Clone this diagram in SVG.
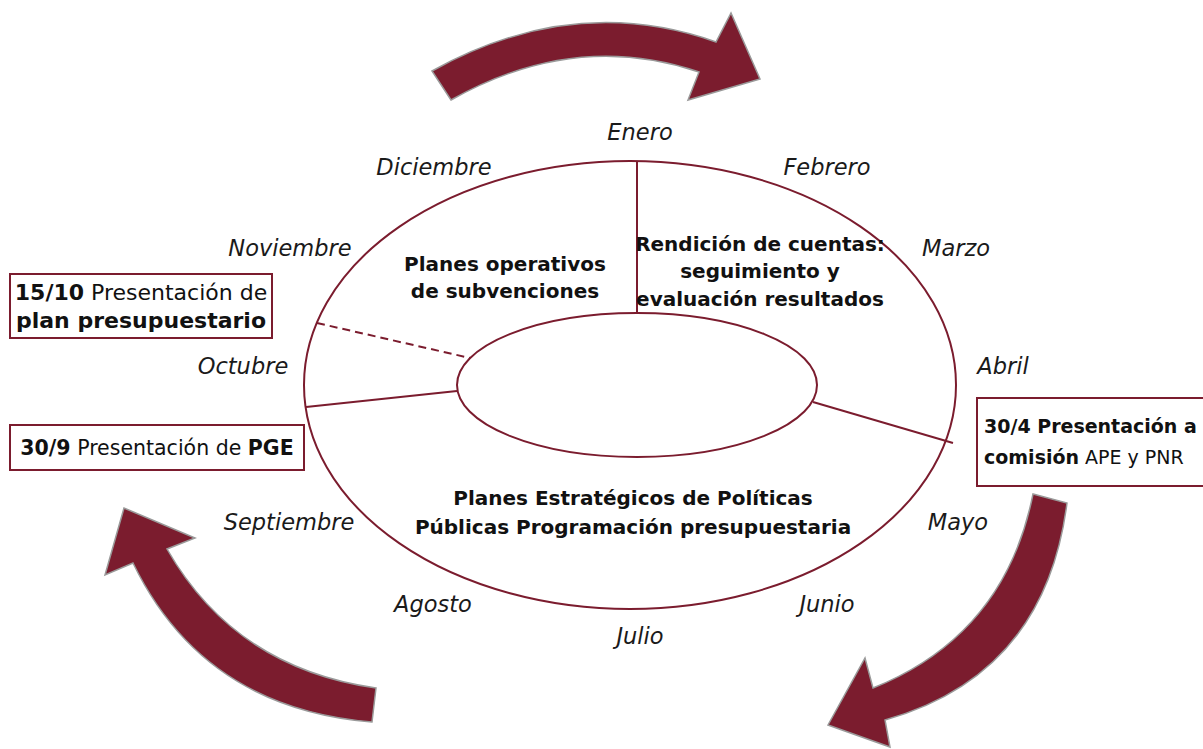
<svg xmlns="http://www.w3.org/2000/svg" width="1203" height="749" viewBox="0 0 1203 749">
<style>
.arrow{fill:#7B1C2E;stroke:#9a9a9a;stroke-width:1.5}
.ring{fill:none;stroke:#7B1C2E;stroke-width:2}
.box{fill:#fff;stroke:#7B1C2E;stroke-width:2}
.month{font-family:"DejaVu Sans",sans-serif;font-style:italic;font-size:22.5px;fill:#1a1a1a;text-anchor:middle}
.sec{font-family:"DejaVu Sans",sans-serif;font-weight:bold;font-size:20px;fill:#111;text-anchor:middle}
.note{font-family:"DejaVu Sans",sans-serif;font-size:22px;fill:#111}
.b{font-weight:bold}
</style>
<rect width="1203" height="749" fill="#fff"/>
<g id="arrows">
<path class="arrow" d="M432,71 Q574,-8 716,42 L731,13 L760,79 L688,100 L699,72 Q575,30 451,100 Z"/>
<path class="arrow" d="M376,688 Q235,668 167,549 L195,538 L124,508 L105,575 L133,563 Q203,708 372,722 Z"/>
<path class="arrow" d="M1033,494 Q1005,635 873,688 L865,658 L828,725 L890,747 L885,720 Q1045,675 1067,503 Z"/>
</g>
<g id="wheel">
<ellipse class="ring" cx="630" cy="385" rx="326" ry="224"/>
<ellipse class="ring" cx="637" cy="385" rx="180" ry="72"/>
</g>
<g id="connectors">
<line class="ring" x1="637" y1="162" x2="637" y2="313"/>
<line class="ring" x1="306" y1="407" x2="457" y2="391"/>
<line class="ring" x1="813" y1="402" x2="953" y2="443"/>
<line class="ring" x1="317" y1="323" x2="470" y2="358" stroke-dasharray="8,5"/>
</g>
<g id="months">
<text class="month" x="640" y="140">Enero</text>
<text class="month" x="434" y="175">Diciembre</text>
<text class="month" x="827" y="175">Febrero</text>
<text class="month" x="290" y="256">Noviembre</text>
<text class="month" x="956" y="256">Marzo</text>
<text class="month" x="243" y="374">Octubre</text>
<text class="month" x="1003" y="374">Abril</text>
<text class="month" x="289" y="530">Septiembre</text>
<text class="month" x="958" y="530">Mayo</text>
<text class="month" x="433" y="612">Agosto</text>
<text class="month" x="827" y="612">Junio</text>
<text class="month" x="640" y="644">Julio</text>
</g>
<g id="sector-subvenciones">
<text class="sec" x="505" y="271">Planes operativos</text>
<text class="sec" x="505" y="298">de subvenciones</text>
</g>
<g id="sector-rendicion">
<text class="sec" x="760" y="251">Rendición de cuentas:</text>
<text class="sec" x="760" y="278">seguimiento y</text>
<text class="sec" x="760" y="306">evaluación resultados</text>
</g>
<g id="sector-estrategicos">
<text class="sec" x="633" y="505">Planes Estratégicos de Políticas</text>
<text class="sec" x="633" y="534">Públicas Programación presupuestaria</text>
</g>
<g id="box-1510">
<rect class="box" x="10" y="274" width="262" height="64"/>
<text class="note" x="141" y="300" text-anchor="middle"><tspan class="b">15/10</tspan> Presentación de</text>
<text class="note b" x="141" y="328" text-anchor="middle">plan presupuestario</text>
</g>
<g id="box-309">
<rect class="box" x="10" y="425" width="294" height="45"/>
<text class="note" x="157" y="455" text-anchor="middle" style="font-size:20.5px"><tspan class="b">30/9</tspan> Presentación de <tspan class="b">PGE</tspan></text>
</g>
<g id="box-304">
<rect class="box" x="977" y="398" width="240" height="88"/>
<text class="note b" x="984" y="433" style="font-size:19px">30/4 Presentación a</text>
<text class="note" x="984" y="464" style="font-size:19px"><tspan class="b">comisión</tspan> APE y PNR</text>
</g>
</svg>
